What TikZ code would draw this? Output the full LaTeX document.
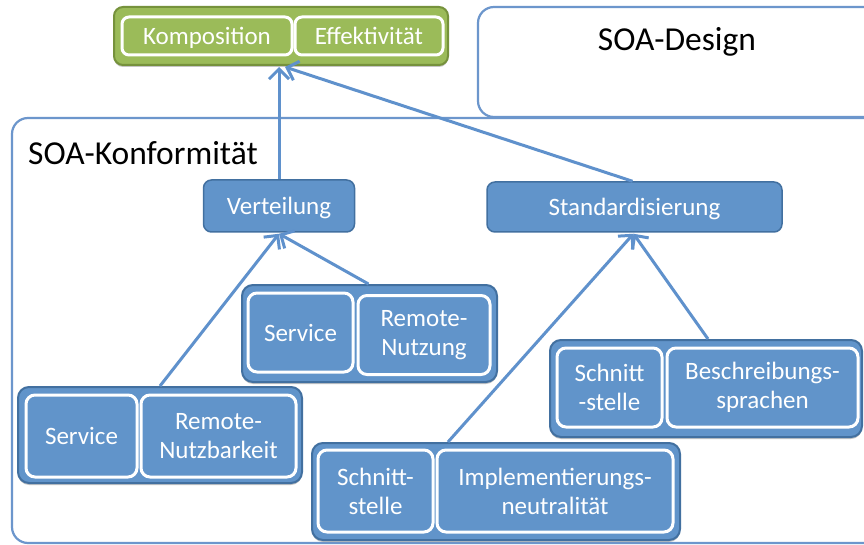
\documentclass[tikz,border=0pt]{standalone}
\usepackage{fontspec}
\setmainfont{Carlito}
\usetikzlibrary{arrows.meta,calc,shadows}
\definecolor{bfill}{RGB}{97,148,202}
\definecolor{bdraw}{RGB}{66,112,160}
\definecolor{gfill}{RGB}{155,187,89}
\definecolor{gdraw}{RGB}{118,146,60}
\definecolor{frame}{RGB}{108,150,204}
\definecolor{arrc}{RGB}{95,145,204}
\tikzset{
  frm/.style={draw=frame, line width=2.2pt, rounded corners=16pt},
  grpb/.style={draw=bdraw, fill=bfill, line width=2pt, rounded corners=11pt,
    drop shadow={shadow xshift=0pt, shadow yshift=-2pt, fill=black!45, opacity=0.5}},
  grpg/.style={draw=gdraw, fill=gfill, line width=2pt, rounded corners=9pt,
    drop shadow={shadow xshift=0pt, shadow yshift=-2pt, fill=black!45, opacity=0.5}},
  inb/.style={draw=white, fill=bfill, line width=3pt, rounded corners=9pt, text=white,
    align=center, inner sep=0pt, font=\fontsize{25}{29}\selectfont},
  ing/.style={draw=white, fill=gfill, line width=3pt, rounded corners=7pt, text=white,
    align=center, inner sep=0pt, font=\fontsize{25}{29}\selectfont},
  lvl/.style={draw=bdraw, fill=bfill, line width=1.5pt, rounded corners=8pt, text=white,
    align=center, inner sep=0pt, font=\fontsize{25}{29}\selectfont},
  oneline/.style={text height=22pt, text depth=5pt},
  arr/.style={draw=arrc, line width=3pt, -{Straight Barb[length=10pt,width=20pt,line width=3pt]}},
  ttl/.style={text=black, inner sep=0pt, font=\fontsize{33.5}{38}\selectfont},
}
\begin{document}
\begin{tikzpicture}[x=1pt,y=-1pt]
\useasboundingbox (0,0) rectangle (864,545);
\clip (0,0) rectangle (864,545);
\fill[white] (0,0) rectangle (864,545);
% frames
\draw[frm] (478,7) rectangle (905,117);
\node[ttl] (design) at (677,42) {SOA-Design};
\draw[frm] (12,118) rectangle (905,543);
\node[ttl, anchor=west] (konf) at (28,153) {SOA-Konformität};
% green group
\node[grpg, minimum width=334pt, minimum height=58pt] (g0) at (281,36) {};
\node[ing, oneline, minimum width=170pt, minimum height=38pt] (komp) at (207,36) {Komposition};
\node[ing, oneline, minimum width=148pt, minimum height=38pt] (eff) at (369,36) {Effektivität};
% level boxes
\node[lvl, oneline, minimum width=151pt, minimum height=52pt] (vert) at (279,206) {Verteilung};
\node[lvl, oneline, minimum width=295pt, minimum height=50pt] (std) at (634.5,207) {Standardisierung};
% arrows
\coordinate (gt1) at ($(g0.south)+(0,1)$);
\coordinate (gt2) at ($(g0.south)+(4,1)$);
\draw[arr] (vert.north) -- (vert.north |- gt1);
\draw[arr] ($(std.north)+(-2,0)$) -- (gt2);
% groups
\node[grpb, minimum width=255pt, minimum height=97pt] (g1) at (369.5,333.5) {};
\node[grpb, minimum width=284pt, minimum height=96pt] (g2) at (160,435) {};
\node[grpb, minimum width=368pt, minimum height=97pt] (g3) at (496,491.5) {};
\node[grpb, minimum width=312pt, minimum height=97pt] (g4) at (706,388.5) {};
\draw[arr] (g2.north) -- ($(vert.south)+(0,1)$);
\draw[arr] ($(g1.north)+(-1,0)$) -- ($(vert.south)+(0,1)$);
\draw[arr] ($(g3.north)+(-48,0)$) -- ($(std.south)+(-1,1)$);
\draw[arr] ($(g4.north)+(2,0)$) -- ($(std.south)+(-1,1)$);
% inner boxes
\node[inb, oneline, minimum width=105pt, minimum height=79pt] (s1) at (300.5,332.5) {Service};
\node[inb, minimum width=132pt, minimum height=79pt] (rn) at (424,335) {Remote-\\Nutzung};
\node[inb, oneline, minimum width=111pt, minimum height=82pt] (s2) at (81.5,436) {Service};
\node[inb, minimum width=155pt, minimum height=82pt] (rnb) at (218.5,436) {Remote-\\Nutzbarkeit};
\node[inb, minimum width=115pt, minimum height=82pt] (sst) at (375.5,491) {Schnitt-\\stelle};
\node[inb, minimum width=236pt, minimum height=82pt] (impl) at (555,491) {Implementierungs-\\neutralität};
\node[inb, minimum width=105pt, minimum height=79pt] (sst2) at (609.5,387.5) {Schnitt\\-stelle};
\node[inb, minimum width=191pt, minimum height=79pt] (besch) at (762.5,387.5) {Beschreibungs-\\sprachen};
\end{tikzpicture}
\end{document}
